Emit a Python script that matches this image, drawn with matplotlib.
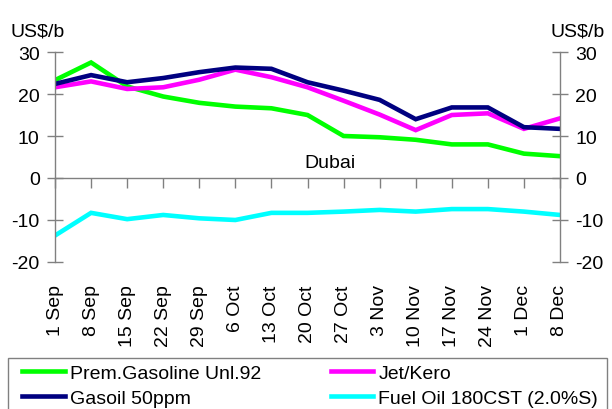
import matplotlib
matplotlib.use("Agg")
import matplotlib.pyplot as plt
from matplotlib.patches import Rectangle

plt.rcParams['font.family'] = ['Liberation Sans', 'DejaVu Sans']

dates = ["1 Sep", "8 Sep", "15 Sep", "22 Sep", "29 Sep", "6 Oct", "13 Oct", "20 Oct",
         "27 Oct", "3 Nov", "10 Nov", "17 Nov", "24 Nov", "1 Dec", "8 Dec"]
gasoline = [23.3, 27.5, 21.8, 19.4, 17.9, 17.0, 16.6, 15.0, 10.0, 9.7, 9.1, 8.0, 8.0, 5.8, 5.2]
jet_kero = [21.6, 23.0, 21.2, 21.6, 23.4, 25.8, 24.0, 21.6, 18.4, 15.1, 11.4, 15.0, 15.4, 11.7, 14.2]
gasoil = [22.4, 24.5, 22.8, 23.8, 25.2, 26.3, 26.0, 22.8, 20.8, 18.6, 14.0, 16.8, 16.8, 12.1, 11.7]
fuel_oil = [-13.7, -8.3, -9.8, -8.8, -9.6, -10.0, -8.3, -8.3, -8.0, -7.6, -8.0, -7.4, -7.4, -8.0, -8.8]

labels = ["Prem.Gasoline Unl.92", "Jet/Kero", "Gasoil 50ppm", "Fuel Oil 180CST (2.0%S)"]
colors = ["#00FF00", "#FF00FF", "#000080", "#00FFFF"]
yticks = [-20, -10, 0, 10, 20, 30]

W, H = 612, 410
fig = plt.figure(figsize=(W / 100, H / 100), dpi=100)
ax = fig.add_axes([55 / W, 1 - 263 / H, (560 - 55) / W, (263 - 53) / H])

x = list(range(len(dates)))
series = [gasoline, jet_kero, gasoil, fuel_oil]
lines = []
for vals, c, lab in zip(series, colors, labels):
    ln, = ax.plot(x, vals, color=c, lw=3.3, label=lab, solid_joinstyle='miter')
    lines.append(ln)

ax.set_xlim(0, len(dates) - 1)
ax.set_ylim(-20, 30)
gray = "#808080"
ax.spines["top"].set_visible(False)
ax.spines['bottom'].set_position(('data', 0))
for s in ["left", "right", "bottom"]:
    ax.spines[s].set_color(gray)
    ax.spines[s].set_linewidth(1.0)

ax.set_yticks(yticks)
ax.set_yticklabels([str(v) for v in yticks])
ax.tick_params(axis='y', direction='inout', length=12, color=gray, width=1,
               labelsize=14, left=True, right=True, labelleft=True, labelright=True, pad=5)
ax.set_xticks(x)
ax.tick_params(axis='x', direction='out', length=7, color=gray, width=1, labelbottom=False)

sec = ax.secondary_xaxis(0.0)
sec.set_xticks(x)
sec.set_xticklabels(dates, rotation=90, fontsize=14, va='top')
sec.tick_params(axis='x', length=0, pad=16)
sec.spines['bottom'].set_visible(False)

ax.text(0.545, 0.476, "Dubai", transform=ax.transAxes, fontsize=14, ha='center', va='center')

fig.text(38 / W, 1 - 32 / H, "US$/b", fontsize=14, ha='center', va='center')
fig.text(578 / W, 1 - 32 / H, "US$/b", fontsize=14, ha='center', va='center')

# legend box
fig.patches.append(Rectangle((8 / W, -0.05), (607 - 8) / W, (1 - 359 / H) + 0.05,
                             transform=fig.transFigure, fill=False, edgecolor=gray, lw=1.0))
order = [0, 2, 1, 3]
leg = fig.legend([lines[i] for i in order], [labels[i] for i in order], ncol=2,
                 loc='upper left', bbox_to_anchor=(22 / W, 1 - 369 / H, (598 - 22) / W, 0.01),
                 mode='expand', borderaxespad=0, borderpad=0, frameon=False,
                 handlelength=2.2, handletextpad=0.25, labelspacing=0.42, fontsize=14)

fig.savefig("out.png", dpi=100)
